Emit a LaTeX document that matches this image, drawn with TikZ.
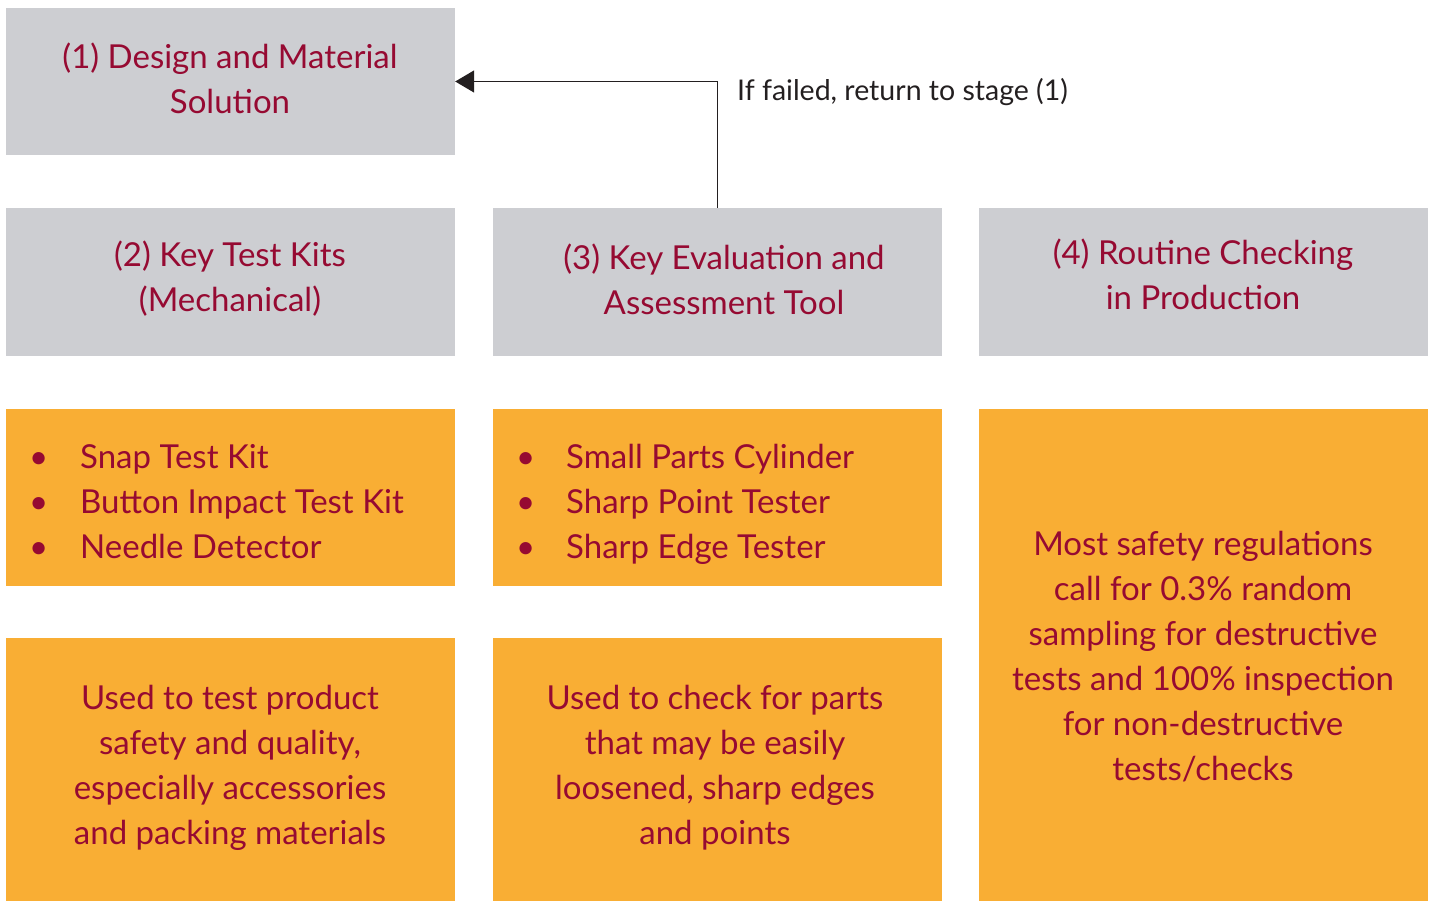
\documentclass[tikz,border=0pt]{standalone}
\usepackage{fontspec}
\setmainfont{Lato}
\usetikzlibrary{arrows.meta}
\definecolor{boxgray}{HTML}{CDCED2}
\definecolor{boxorange}{HTML}{F9AE34}
\definecolor{txtred}{HTML}{960A32}
\definecolor{linedark}{HTML}{231F20}
\tikzset{
  graybox/.style={fill=boxgray, draw=none, inner sep=0pt},
  orangebox/.style={fill=boxorange, draw=none, inner sep=0pt},
  boxtext/.style={text=txtred, align=center, font=\fontsize{33}{45}\selectfont, inner sep=0pt},
  listtext/.style={text=txtred, align=left, anchor=base west, font=\fontsize{33}{45}\selectfont, inner sep=0pt},
  arrowline/.style={draw=linedark, line width=1.6pt, -{Triangle[length=19pt,width=22pt]}},
}
\begin{document}
\begin{tikzpicture}[x=1pt,y=-1pt]
\useasboundingbox (0,0) rectangle (1432,901);
% boxes
\node[graybox, minimum width=449pt, minimum height=147pt] (b1) at (230.5,81.5) {};
\node[graybox, minimum width=449pt, minimum height=148pt] (b2) at (230.5,282) {};
\node[graybox, minimum width=449pt, minimum height=148pt] (b3) at (717.5,282) {};
\node[graybox, minimum width=449pt, minimum height=148pt] (b4) at (1203.5,282) {};
\node[orangebox, minimum width=449pt, minimum height=177pt] (l2) at (230.5,497.5) {};
\node[orangebox, minimum width=449pt, minimum height=177pt] (l3) at (717.5,497.5) {};
\node[orangebox, minimum width=449pt, minimum height=263pt] (d2) at (230.5,769.5) {};
\node[orangebox, minimum width=449pt, minimum height=263pt] (d3) at (717.5,769.5) {};
\node[orangebox, minimum width=449pt, minimum height=492pt] (d4) at (1203.5,655) {};
% header texts
\node[boxtext] (t1) at (230,78) {(1) Design and Material\\Solution};
\node[boxtext] (t2) at (230,279) {(2) Key Test Kits\\(Mechanical)};
\node[boxtext] (t3) at (724,279) {(3) Key Evaluation and\\Assessment Tool};
\node[boxtext] (t4) at (1203,274) {(4) Routine Checking\\in Production};
% lists
\node[listtext] (bl2) at (29,558) {•\\•\\•};
\node[listtext] (ll2) at (80,558) {Snap Test Kit\\Button Impact Test Kit\\Needle Detector};
\node[listtext] (bl3) at (516,558) {•\\•\\•};
\node[listtext] (ll3) at (566,558) {Small Parts Cylinder\\Sharp Point Tester\\Sharp Edge Tester};
% descriptions
\node[boxtext] (e2) at (230,768) {Used to test product\\safety and quality,\\especially accessories\\and packing materials};
\node[boxtext] (e3) at (715,768) {Used to check for parts\\that may be easily\\loosened, sharp edges\\and points};
\node[boxtext] (e4) at (1203,657) {Most safety regulations\\call for 0.3\% random\\sampling for destructive\\tests and 100\% inspection\\for non-destructive\\tests/checks};
% connector
\draw[arrowline] (b3.north) |- (b1.east);
\node[anchor=west, inner sep=0pt, text=linedark, font=\fontsize{28.5}{32}\selectfont] (lab) at (737,92) {If failed, return to stage (1)};
\end{tikzpicture}
\end{document}
